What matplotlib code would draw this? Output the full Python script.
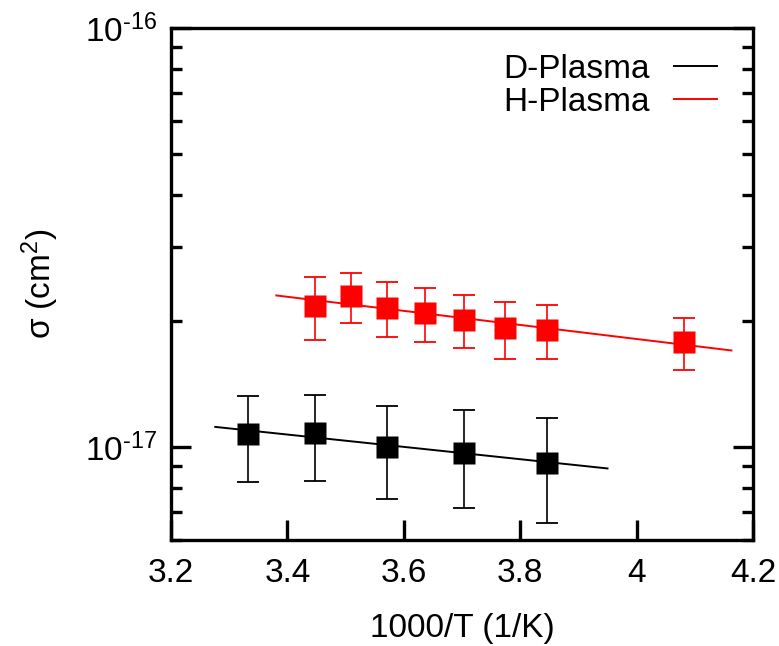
import numpy as np
import matplotlib.pyplot as plt
from matplotlib.ticker import FixedLocator, FixedFormatter, LogLocator, NullFormatter

plt.rcParams['font.family'] = ['Liberation Sans', 'DejaVu Sans']
plt.rcParams['mathtext.fontset'] = 'custom'
plt.rcParams['mathtext.rm'] = 'Liberation Sans'
plt.rcParams['mathtext.it'] = 'Liberation Sans:italic'

# D-plasma data (1000/T, sigma in cm^2)
d_x = [3.333, 3.448, 3.571, 3.704, 3.846]
d_y = [1.077e-17, 1.082e-17, 1.00e-17, 0.970e-17, 0.915e-17]
d_err = [0.25e-17, 0.25e-17, 0.25e-17, 0.254e-17, 0.256e-17]

# H-plasma data
h_x = [3.448, 3.509, 3.571, 3.636, 3.704, 3.774, 3.846, 4.082]
h_y = [2.17e-17, 2.29e-17, 2.15e-17, 2.09e-17, 2.01e-17, 1.92e-17, 1.90e-17, 1.78e-17]
h_err = [0.37e-17, 0.31e-17, 0.32e-17, 0.31e-17, 0.29e-17, 0.30e-17, 0.28e-17, 0.255e-17]

# fitted lines (end points)
d_fit_x = [3.276, 3.95]
d_fit_y = [1.117e-17, 0.889e-17]
h_fit_x = [3.381, 4.163]
h_fit_y = [2.30e-17, 1.70e-17]

x_ticks = [3.2, 3.4, 3.6, 3.8, 4.0, 4.2]
x_labels = ['3.2', '3.4', '3.6', '3.8', '4', '4.2']

fs = 24

fig = plt.figure(figsize=(7.79, 6.46), dpi=100)
ax = fig.add_axes([171/779, 1 - 540/646, (753 - 171)/779, (540 - 28)/646])

ax.plot(d_fit_x, d_fit_y, color='black', lw=1.4, label='D-Plasma')
ax.plot(h_fit_x, h_fit_y, color='red', lw=1.4, label='H-Plasma')

ax.errorbar(d_x, d_y, yerr=d_err, fmt='s', color='black', ms=15.5, mec='none',
            elinewidth=1.2, capsize=7.8, capthick=1.3)
ax.errorbar(h_x, h_y, yerr=h_err, fmt='s', color='red', ms=15.5, mec='none',
            elinewidth=1.2, capsize=7.8, capthick=1.3)

ax.set_yscale('log')
ax.set_xlim(3.2, 4.2)
ax.set_ylim(6e-18, 1e-16)

ax.xaxis.set_major_locator(FixedLocator(x_ticks))
ax.xaxis.set_major_formatter(FixedFormatter(x_labels))
ax.yaxis.set_major_locator(FixedLocator([1e-17, 1e-16]))
ax.yaxis.set_major_formatter(FixedFormatter(['10$^{\\text{-17}}$', '10$^{\\text{-16}}$']))
ax.yaxis.set_minor_locator(LogLocator(base=10, subs=np.arange(2, 10), numticks=20))
ax.yaxis.set_minor_formatter(NullFormatter())

for s in ax.spines.values():
    s.set_linewidth(2.4)
ax.tick_params(axis='both', which='major', direction='in', length=14.5, width=2.4,
               labelsize=fs)
ax.tick_params(axis='x', which='major', pad=13)
ax.tick_params(axis='y', which='major', pad=10)
ax.tick_params(axis='y', which='both', right=True, left=True)
ax.tick_params(axis='y', which='minor', direction='in', length=8, width=2.4)
ax.tick_params(axis='x', which='both', top=False)

ax.set_xlabel('1000/T (1/K)', fontsize=fs, labelpad=17)
ax.set_ylabel('σ (cm$^2$)', fontsize=fs, labelpad=17)

ax.legend(loc='upper right', bbox_to_anchor=(0.938, 0.949), frameon=False,
          markerfirst=False, fontsize=fs, handlelength=1.3, handletextpad=0.7,
          borderpad=0, borderaxespad=0, labelspacing=0.05)

fig.savefig('out.png', dpi=100)
